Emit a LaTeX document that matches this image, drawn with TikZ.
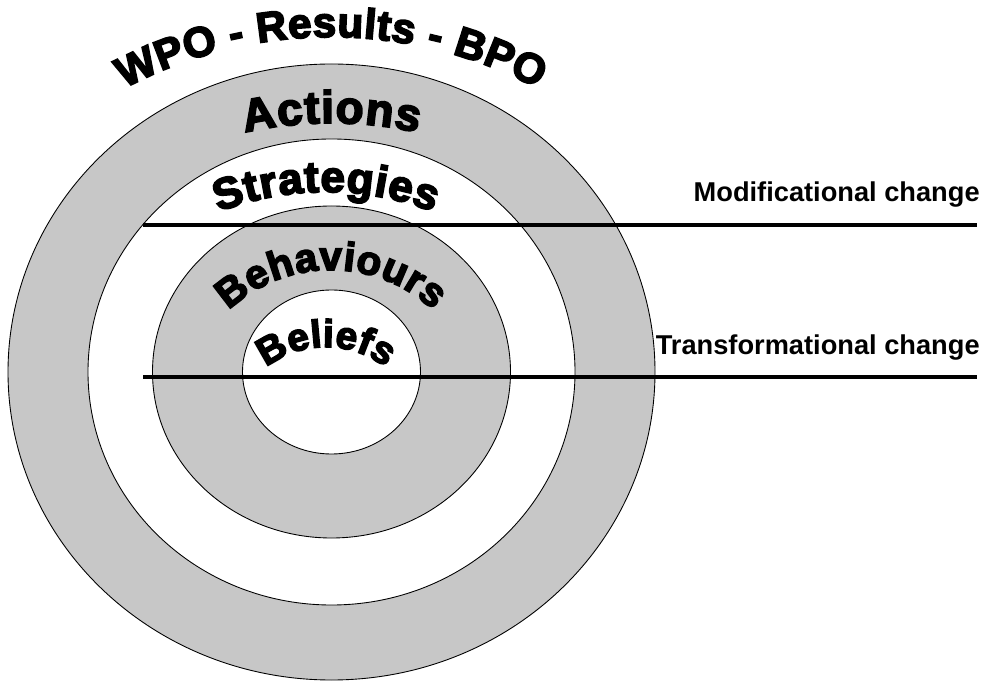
\documentclass[tikz,border=0pt]{standalone}
\usepackage{fontspec}
\setmainfont{Liberation Sans}
\newfontfamily\artfont[FakeBold=4]{Liberation Sans Bold}
\usepackage{tikz}
\usetikzlibrary{decorations.text}

\begin{document}
\begin{tikzpicture}[
    x=0.02cm, y=0.02cm,
    ring/.style={draw=black, line width=0.5pt},
    shade/.style={ring, fill=black!22},
    blank/.style={ring, fill=white},
    divider/.style={draw=black, line width=2pt},
    change/.style={anchor=base east, inner sep=0pt, font=\bfseries\fontsize{15.5}{18}\selectfont}
]
    \useasboundingbox (0,0) rectangle (990,683);

    \coordinate (ctr) at (331.5,311);
    \path[shade] (ctr) ellipse[x radius=323.5, y radius=308];
    \path[blank] (ctr) ellipse[x radius=243.5, y radius=233];
    \path[shade] (ctr) ellipse[x radius=179, y radius=166];
    \path[blank] (ctr) ellipse[x radius=89, y radius=82];

    \path[decorate, decoration={text along path, text align=fit to path,
        text={|\artfont\fontsize{24}{28}\selectfont|WPO - Results - BPO}}]
        (331,206) ++(118:440) arc[start angle=118, end angle=62, radius=440];
    \path[decorate, decoration={text along path, text align=fit to path,
        text={|\artfont\fontsize{26}{30}\selectfont|Actions}}]
        (331.5,160) ++(102.5:400) arc[start angle=102.5, end angle=77.5, radius=400];
    \path[decorate, decoration={text along path, text align=fit to path,
        text={|\artfont\fontsize{25}{28}\selectfont|Strategies}}]
        (326,191) ++(111:300) arc[start angle=111, end angle=69, radius=300];
    \path[decorate, decoration={text along path, text align=fit to path,
        text={|\artfont\fontsize{23}{27}\selectfont|Behaviours}}]
        (331,263) ++(133:150) arc[start angle=133, end angle=47, radius=150];
    \path[decorate, decoration={text along path, text align=fit to path,
        text={|\artfont\fontsize{22}{26}\selectfont|Beliefs}}]
        (326,239) ++(128:97) arc[start angle=128, end angle=52, radius=97];

    \coordinate (mod-l) at (143,458);
    \coordinate (mod-r) at (977,458);
    \coordinate (trans-l) at (143,306);
    \coordinate (trans-r) at (977,306);
    \draw[divider] (mod-l) -- (mod-r);
    \draw[divider] (trans-l) -- (trans-r);

    \node[change] (modlabel) at (980,481) {Modificational change};
    \node[change] (translabel) at (980,328) {Transformational change};
\end{tikzpicture}
\end{document}
